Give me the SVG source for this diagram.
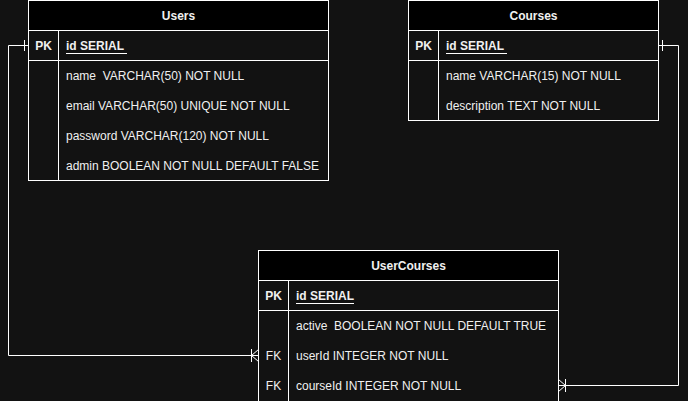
<svg xmlns="http://www.w3.org/2000/svg" width="688" height="401" viewBox="0 0 688 401">
<style>
.tb{fill:#121212;stroke:#fff;stroke-width:1}
.hd{fill:#000;stroke:#fff;stroke-width:1}
.ln{stroke:#fff;stroke-width:1;fill:none}
text{font-family:"Liberation Sans",Arial,sans-serif;font-size:12px;fill:#f0f0f0;white-space:pre}
.h{text-anchor:middle;font-weight:bold}
.k{text-anchor:middle}
.b{font-weight:bold}
</style>
<rect width="688" height="401" fill="#121212"/>
<g id="connectors">
<path class="ln" d="M28.5 45.5 H8.5 V355.5 H258.5"/>
<path class="ln" d="M24.5 40 V51"/>
<path class="ln" d="M251.5 349 V362 M251.5 355.5 L258.5 349.5 M251.5 355.5 L258.5 361.5"/>
<path class="ln" d="M658.5 45.5 H678.5 V385.5 H558.5"/>
<path class="ln" d="M662.5 40 V51"/>
<path class="ln" d="M565.5 379 V392 M565.5 385.5 L558.5 379.5 M565.5 385.5 L558.5 391.5"/>
</g>
<g id="users">
<rect class="tb" x="28.5" y="0.5" width="300" height="180"/>
<rect class="hd" x="28.5" y="0.5" width="300" height="30"/>
<path class="ln" d="M58.5 30.5 V180.5 M28.5 60.5 H328.5"/>
<text class="h" x="178.5" y="20">Users</text>
<text class="k b" x="43.5" y="50">PK</text>
<text class="b" x="66" y="50">id SERIAL</text>
<path class="ln" d="M66 53.5 H127"/>
<text x="66" y="80" xml:space="preserve">name  VARCHAR(50) NOT NULL</text>
<text x="66" y="110">email VARCHAR(50) UNIQUE NOT NULL</text>
<text x="66" y="140">password VARCHAR(120) NOT NULL</text>
<text x="66" y="170">admin BOOLEAN NOT NULL DEFAULT FALSE</text>
</g>
<g id="courses">
<rect class="tb" x="408.5" y="0.5" width="250" height="120"/>
<rect class="hd" x="408.5" y="0.5" width="250" height="30"/>
<path class="ln" d="M438.5 30.5 V120.5 M408.5 60.5 H658.5"/>
<text class="h" x="533.5" y="20">Courses</text>
<text class="k b" x="423.5" y="50">PK</text>
<text class="b" x="446" y="50">id SERIAL</text>
<path class="ln" d="M446 53.5 H507"/>
<text x="446" y="80">name VARCHAR(15) NOT NULL</text>
<text x="446" y="110">description TEXT NOT NULL</text>
</g>
<g id="usercourses">
<rect class="tb" x="258.5" y="250.5" width="300" height="152"/>
<rect class="hd" x="258.5" y="250.5" width="300" height="30"/>
<path class="ln" d="M288.5 280.5 V402 M258.5 310.5 H558.5"/>
<text class="h" x="408.5" y="270">UserCourses</text>
<text class="k b" x="273.5" y="300">PK</text>
<text class="b" x="296" y="300">id SERIAL</text>
<path class="ln" d="M296 303.5 H354"/>
<text x="296" y="330" xml:space="preserve">active  BOOLEAN NOT NULL DEFAULT TRUE</text>
<text class="k" x="273.5" y="360">FK</text>
<text x="296" y="360">userId INTEGER NOT NULL</text>
<text class="k" x="273.5" y="390">FK</text>
<text x="296" y="390">courseId INTEGER NOT NULL</text>
</g>
</svg>
